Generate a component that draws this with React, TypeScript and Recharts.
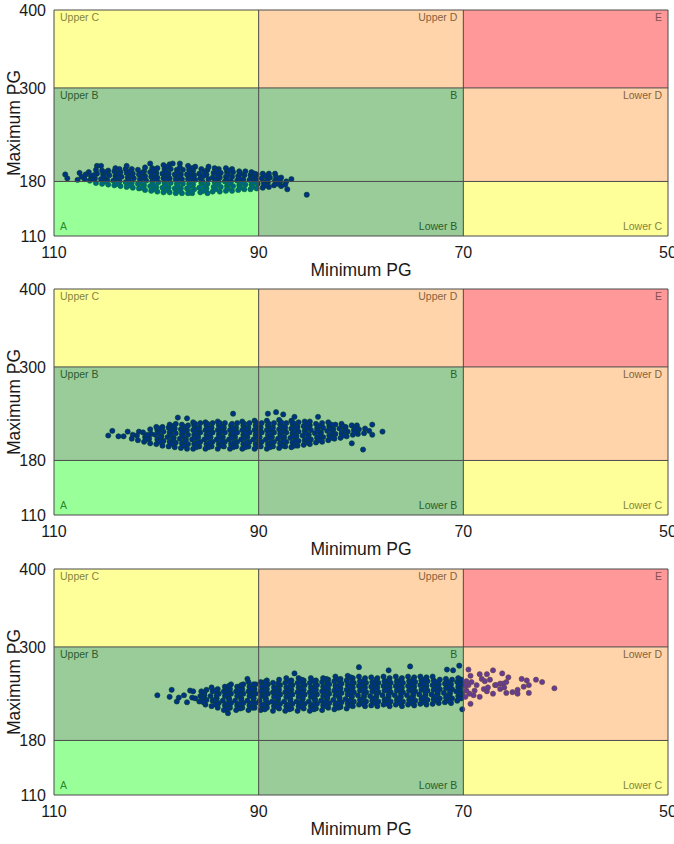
import { ScatterChart, Scatter, XAxis, YAxis, ReferenceArea, ReferenceLine } from "recharts";

const minTicks = [110, 90, 70, 50];
const maxTicks = [110, 180, 300, 400];

// [min PG, max PG]
const topPoints = [
  [108.9,189],[108.7,184],[107.7,182],[107.5,191],[107.3,186],[107,183],[106.9,189],
  [106.5,181],[106.4,187],[106.6,192],[105.9,178],[106,184],[105.8,190],[105.8,200],[105.9,195],
  [105.3,177],[105.4,183],[105.2,189],[105.3,194],[105.4,200],[104.7,176],[104.8,182],[104.6,188],[104.7,194],
  [104.1,175],[104.2,181],[104,187],[104.1,193],[104,197],[103.5,174],[103.6,180],[103.4,186],[103.5,192],[103.6,196],
  [102.9,173],[103,179],[102.8,185],[102.9,191],[103,196],[102.9,200],[102.3,172],[102.4,178],[102.2,184],[102.3,190],[102.4,196],
  [101.7,171],[101.8,177],[101.6,183],[101.7,189],[101.8,195],[101.1,169],[101.2,175],[101,181],[101.1,187],[101.2,193],[101.1,198],
  [100.5,168],[100.6,174],[100.4,180],[100.5,186],[100.6,192],[100.4,197],[100.6,203],[99.9,167],[100,173],[99.8,179],[99.9,185],[100,191],[99.9,197],
  [99.3,166],[99.4,172],[99.2,178],[99.3,184],[99.4,190],[99.2,196],[99.3,201],[98.7,166],[98.8,172],[98.6,178],[98.7,184],[98.8,190],[98.6,196],[98.7,202],
  [98.1,165],[98.2,171],[98,177],[98.1,183],[98.2,189],[98,195],[98.4,203],[97.5,165],[97.6,171],[97.4,177],[97.5,183],[97.6,189],[97.4,195],[97.7,203],
  [96.9,165],[97,171],[96.8,177],[96.9,183],[97,189],[96.8,195],[96.9,200],[96.5,165],[96.3,170],[96.4,176],[96.2,182],[96.3,188],[96.4,194],[96.2,199],
  [95.7,166],[95.8,172],[95.6,178],[95.7,184],[95.8,190],[95.6,196],[95,165],[95.1,171],[95,177],[94.9,183],[95.1,189],[95,195],[94.9,199],
  [94.5,167],[94.4,173],[94.3,179],[94.5,185],[94.4,191],[94.3,197],[93.8,167],[93.7,173],[93.9,179],[93.8,185],[93.7,191],[93.9,196],
  [93.2,168],[93.1,174],[93.3,180],[93.2,186],[93.1,192],[93.2,197],[92.6,168],[92.5,174],[92.7,180],[92.6,186],[92.5,192],[92.6,196],
  [92,169],[91.9,175],[92.1,181],[92,187],[91.9,193],[91.4,170],[91.3,176],[91.5,182],[91.4,188],[91.3,193],[90.8,170],[90.7,176],[90.9,182],[90.8,188],[90.7,192],
  [90.2,171],[90.1,177],[90.3,183],[90.2,189],[89.6,172],[89.5,178],[89.7,184],[89.6,190],[89,173],[89.1,179],[88.9,185],[89,190],
  [88.4,190],[88.5,175],[88.4,181],[88.3,186],[87.8,174],[87.9,180],[87.8,185],[87.3,180],[87.2,170],[87.4,176],[86.8,183],[85.3,163],
];
const topFill = [
  [106.2,183],[106.1,188],[105,180],[105.1,186],[104.9,192],[103.8,177],[103.9,184],[103.7,190],[102.6,175],[102.7,181],[102.5,187],[102.6,193],
  [101.4,172],[101.5,179],[101.3,185],[101.4,191],[100.2,170],[100.3,176],[100.1,183],[100.2,189],[100.3,195],[99,169],[99.1,175],[98.9,181],[99,187],[99.1,193],[98.9,199],
  [97.8,168],[97.9,174],[97.7,180],[97.8,186],[97.9,192],[97.7,198],[96.6,167],[96.7,174],[96.5,180],[96.6,185],[96.7,191],[96.5,197],
  [95.4,168],[95.3,174],[95.5,180],[95.4,187],[95.3,193],[94.2,170],[94.1,176],[94.2,182],[94,188],[94.1,194],[93,171],[92.9,177],[93.1,183],[93,189],[92.9,194],
  [91.8,172],[91.7,178],[91.9,184],[91.8,190],[90.6,173],[90.5,179],[90.6,185],[90.4,190],[89.3,175],[89.2,181],[89.3,187],[88.1,177],[88,183],
];

const middlePoints = [
  [104.7,212],[104.3,218],[103.7,211],[103.2,211],[102.8,217],[102.4,208],[102.3,213],[101.8,206],[101.9,212],[101.7,217],
  [101.2,204],[101.1,210],[101.3,216],[100.6,202],[100.7,208],[100.5,214],[100.6,220],[100,201],[99.9,207],[100.1,213],[99.9,219],[100,223],
  [99.4,199],[99.3,205],[99.5,211],[99.3,217],[99.4,223],[98.8,198],[98.7,204],[98.9,210],[98.7,216],[98.8,222],[98.7,226],
  [98.2,197],[98.1,203],[98.3,209],[98.1,215],[98.2,221],[98.1,227],[97.9,235],[97.6,196],[97.5,202],[97.7,208],[97.5,214],[97.6,220],[97.5,226],
  [97,195],[96.9,201],[97.1,207],[96.9,213],[97,219],[96.9,225],[97,234],[96.4,195],[96.3,201],[96.5,207],[96.3,213],[96.4,219],[96.3,225],[96.4,229],
  [95.8,198],[95.7,204],[95.9,210],[95.7,216],[95.8,222],[95.7,228],[95.2,195],[95.1,201],[95.3,207],[95.1,213],[95.2,219],[95.1,225],[95.2,229],
  [94.6,198],[94.5,204],[94.7,210],[94.5,216],[94.6,222],[94.5,228],[94,195],[93.9,201],[94.1,207],[93.9,213],[94,219],[93.9,225],[94,230],
  [93.4,198],[93.3,204],[93.5,210],[93.3,216],[93.4,222],[93.3,228],[92.8,195],[92.7,201],[92.9,207],[92.7,213],[92.8,219],[92.7,225],[92.5,240],
  [92.2,198],[92.1,204],[92.3,210],[92.1,216],[92.2,222],[92.1,228],[91.6,195],[91.5,201],[91.7,207],[91.5,213],[91.6,219],[91.5,225],[91.6,230],
  [91,198],[90.9,204],[91.1,210],[90.9,216],[91,222],[90.9,228],[90.4,195],[90.3,201],[90.5,207],[90.3,213],[90.4,219],[90.3,225],[90.4,231],
  [89.8,198],[89.7,204],[89.9,210],[89.7,216],[89.8,222],[89.7,228],[89.1,240],[89.2,195],[89.1,201],[89.3,207],[89.1,213],[89.2,219],[89.1,225],[89.2,231],
  [88.6,198],[88.5,204],[88.7,210],[88.5,216],[88.6,222],[88.5,228],[88.3,242],[88,196],[87.9,202],[88.1,208],[87.9,214],[88,220],[87.9,226],[88,232],
  [87.6,239],[87.4,198],[87.3,204],[87.5,210],[87.3,216],[87.4,222],[87.3,228],[86.8,197],[86.7,203],[86.9,209],[86.7,215],[86.8,221],[86.7,227],[86.8,231],[86.5,236],
  [86.2,199],[86.1,205],[86.3,211],[86.1,217],[86.2,223],[86.1,229],[85.6,200],[85.5,206],[85.7,212],[85.5,218],[85.6,224],[85.5,230],
  [85,201],[84.9,207],[85.1,213],[84.9,219],[85,225],[85,230],[84.4,203],[84.3,209],[84.5,215],[84.3,221],[84.4,227],[84.2,236],
  [83.8,204],[83.7,210],[83.9,216],[83.7,222],[83.8,228],[83.2,206],[83.1,212],[83.3,218],[83.1,224],[83.2,229],[82.6,208],[82.5,214],[82.7,220],[82.5,226],
  [82,209],[81.9,215],[82.1,221],[81.9,227],[81.4,211],[81.3,217],[81.5,223],[80.9,202],[80.8,213],[80.7,219],[80.9,225],[80.3,214],[80.2,220],[80.4,225],
  [79.8,194],[79.7,215],[79.6,221],[79.2,218],[78.9,213],[78.9,226],[77.9,217],
];
const middleFill = [
  [101,207],[100.9,213],[99.7,204],[99.6,210],[99.8,216],[99.7,221],[98.5,201],[98.4,207],[98.6,213],[98.5,219],[98.4,224],[97.3,199],[97.2,205],[97.4,211],[97.3,217],[97.2,223],
  [96.1,197],[96,203],[96.2,209],[96.1,215],[96,221],[96.2,227],[94.9,197],[94.8,203],[95,209],[94.9,215],[94.8,221],[95,227],[93.7,199],[93.6,205],[93.8,211],[93.7,217],[93.6,223],[93.8,228],
  [92.5,197],[92.4,203],[92.6,209],[92.5,215],[92.4,221],[92.6,227],[91.3,197],[91.2,203],[91.4,209],[91.3,215],[91.2,221],[91.4,227],[90.1,198],[90,204],[90.2,210],[90.1,216],[90,222],[90.2,228],
  [88.9,197],[88.8,203],[89,209],[88.9,215],[88.8,221],[89,227],[87.7,199],[87.6,205],[87.8,211],[87.7,217],[87.6,223],[87.8,229],[86.5,199],[86.4,205],[86.6,211],[86.5,217],[86.4,223],[86.6,228],
  [85.3,203],[85.2,209],[85.4,215],[85.3,221],[85.2,227],[84.1,206],[84,212],[84.2,218],[84.1,224],[82.9,209],[82.8,215],[83,221],[82.9,226],[81.7,212],[81.6,218],[81.8,224],[80.5,216],[80.6,222],
];

const bottomPoints = [
  [99.9,238],[98.7,236],[98.5,245],[98,230],[97.8,235],[97.3,238],[97,229],[96.7,244],[96.5,235],[96.4,243],[96.2,234],
  [95.8,230],[95.7,237],[95.6,243],[95.2,226],[95.1,232],[95.3,238],[95.1,245],[94.6,224],[94.5,231],[94.7,237],[94.5,243],[94.6,248],
  [94,222],[93.9,228],[94.1,234],[93.9,240],[94,246],[93.4,219],[93.3,225],[93.5,231],[93.3,237],[93.4,243],[93.3,249],[93,215],
  [92.8,222],[92.7,228],[92.9,234],[92.7,240],[92.8,246],[92.7,252],[92.2,219],[92.1,225],[92.3,231],[92.1,237],[92.2,243],[92.1,249],
  [91.6,222],[91.5,228],[91.7,234],[91.5,240],[91.6,246],[91.5,252],[91.1,259],[91,219],[90.9,225],[91.1,231],[90.9,237],[91,243],[90.9,249],[91,255],
  [90.4,222],[90.3,228],[90.5,234],[90.3,240],[90.4,246],[90.3,252],[89.8,219],[89.7,225],[89.9,231],[89.7,237],[89.8,243],[89.7,249],[89.8,255],
  [89.2,222],[89.1,228],[89.3,234],[89.1,240],[89.2,246],[89.1,252],[89.2,257],[88.6,218],[88.5,224],[88.7,230],[88.5,236],[88.6,242],[88.5,248],[88.6,254],
  [88,221],[87.9,227],[88.1,233],[87.9,239],[88,245],[87.9,251],[88,258],[87.4,218],[87.3,224],[87.5,230],[87.3,236],[87.4,242],[87.3,248],[87.4,254],[87.3,260],
  [86.8,221],[86.7,227],[86.9,233],[86.7,239],[86.8,245],[86.7,251],[86.8,257],[86.5,266],[86.2,218],[86.1,224],[86.3,230],[86.1,236],[86.2,242],[86.1,248],[86.2,254],[86.1,260],
  [85.6,221],[85.5,227],[85.7,233],[85.5,239],[85.6,245],[85.5,251],[85.6,257],[85,218],[84.9,224],[85.1,230],[84.9,236],[85,242],[84.9,248],[85,254],[84.9,260],
  [84.4,221],[84.3,227],[84.5,233],[84.3,239],[84.4,245],[84.3,251],[84.4,257],[83.8,219],[83.7,225],[83.9,231],[83.7,237],[83.8,243],[83.7,249],[83.8,255],[83.7,260],
  [83.2,222],[83.1,228],[83.3,234],[83.1,240],[83.2,246],[83.1,252],[83.2,258],[82.6,220],[82.5,226],[82.7,232],[82.5,238],[82.6,244],[82.5,250],[82.6,256],[82.5,262],
  [82,223],[81.9,229],[82.1,235],[81.9,241],[82,247],[81.9,253],[82,259],[81.4,221],[81.3,227],[81.5,233],[81.3,239],[81.4,245],[81.3,251],[81.4,257],[81.3,263],
  [80.8,224],[80.7,230],[80.9,236],[80.7,242],[80.8,248],[80.7,254],[80.8,260],[80.2,274],[80.2,226],[80.1,232],[80.3,238],[80.1,244],[80.2,250],[80.1,256],[80.2,262],
  [79.6,224],[79.5,230],[79.7,236],[79.5,242],[79.6,248],[79.5,254],[79.6,260],[79,225],[78.9,231],[79.1,237],[78.9,243],[79,249],[78.9,255],[79,261],
  [78.4,224],[78.3,230],[78.5,236],[78.3,242],[78.4,248],[78.3,254],[78.4,260],[77.8,226],[77.7,232],[77.9,238],[77.7,244],[77.8,250],[77.7,256],[77.8,262],[77.3,270],
  [77.2,224],[77.1,230],[77.3,236],[77.1,242],[77.2,248],[77.1,254],[77.2,260],[76.6,226],[76.5,232],[76.7,238],[76.5,244],[76.6,250],[76.5,256],[76.6,262],
  [76,224],[75.9,230],[76.1,236],[75.9,242],[76,248],[75.9,254],[76,260],[75.4,226],[75.3,232],[75.5,238],[75.3,244],[75.4,250],[75.3,256],[75.4,262],[75.2,275],
  [74.8,225],[74.7,231],[74.9,237],[74.7,243],[74.8,249],[74.7,255],[74.8,261],[74.2,227],[74.1,233],[74.3,239],[74.1,245],[74.2,251],[74.1,257],[74.2,262],
  [73.6,226],[73.5,232],[73.7,238],[73.5,244],[73.6,250],[73.5,256],[73.6,261],[73,227],[72.9,233],[73.1,239],[72.9,245],[73,251],[72.9,257],[73,262],
  [72.4,228],[72.3,234],[72.5,240],[72.3,246],[72.4,252],[72.3,258],[71.8,229],[71.7,235],[71.9,241],[71.7,247],[71.8,253],[71.7,259],[71.6,271],
  [71.2,228],[71.1,234],[71.3,240],[71.1,246],[71.2,252],[71.1,258],[71,270],[70.6,231],[70.5,237],[70.7,243],[70.5,249],[70.6,255],[70.5,260],[70.4,276],
  [70.1,220],[70.2,234],[70.1,240],[70.3,246],[70.1,252],[70.2,258],
  [69.7,244],[69.8,236],[69.8,250],[69.7,256],[69.5,251],[69.5,271],[69.3,263],[69.3,227],[69.4,240],[69.2,255],[69,238],[68.9,244],[68.7,251],[68.4,236],[68.4,265],
  [68.2,259],[68,246],[67.9,256],[67.7,243],[67.7,265],[67.6,248],[67.4,258],[67.1,240],[67.1,270],[66.9,251],[66.8,251],[66.4,253],[66.4,246],[66.2,266],
  [66.1,253],[66,248],[65.8,255],[65.8,241],[65.6,261],[65.2,242],[64.7,245],[64.7,240],[64.3,259],[64.1,249],[63.8,257],[63.6,251],[63.6,241],[62.9,258],[62.3,255],[61.1,247],
];
const bottomFill = [
  [95.4,229],[95.5,235],[95.3,241],[94.2,226],[94.3,232],[94.1,238],[94.2,244],[93,221],[93.1,227],[92.9,233],[93,239],[93.1,245],[92.9,250],
  [91.8,221],[91.9,227],[91.7,233],[91.8,239],[91.9,245],[91.7,251],[90.6,222],[90.7,228],[90.5,234],[90.6,240],[90.7,246],[90.5,252],
  [89.4,220],[89.5,226],[89.3,232],[89.4,238],[89.5,244],[89.3,250],[89.4,255],[88.2,223],[88.3,229],[88.1,235],[88.2,241],[88.3,247],[88.1,253],
  [87,220],[87.1,226],[86.9,232],[87,238],[87.1,244],[86.9,250],[87,256],[85.8,223],[85.9,229],[85.7,235],[85.8,241],[85.9,247],[85.7,253],[85.8,258],
  [84.6,220],[84.7,226],[84.5,232],[84.6,238],[84.7,244],[84.5,250],[84.6,256],[83.4,224],[83.5,230],[83.3,236],[83.4,242],[83.5,248],[83.3,254],[83.4,259],
  [82.2,222],[82.3,228],[82.1,234],[82.2,240],[82.3,246],[82.1,252],[82.2,258],[81,225],[81.1,231],[80.9,237],[81,243],[81.1,249],[80.9,255],[81,261],
  [79.8,227],[79.9,233],[79.7,239],[79.8,245],[79.9,251],[79.7,257],[78.6,228],[78.7,234],[78.5,240],[78.6,246],[78.7,252],[78.5,258],
  [77.4,227],[77.5,233],[77.3,239],[77.4,245],[77.5,251],[77.3,257],[76.2,228],[76.3,234],[76.1,240],[76.2,246],[76.3,252],[76.1,258],
  [75,228],[75.1,234],[74.9,240],[75,246],[75.1,252],[74.9,258],[73.8,229],[73.9,235],[73.7,241],[73.8,247],[73.9,253],[73.7,259],
  [72.6,231],[72.7,237],[72.5,243],[72.6,249],[72.7,255],[71.4,231],[71.5,237],[71.3,243],[71.4,249],[71.5,255],[70.4,234],[70.3,240],[70.4,252],
];

// [min from, min to, max from, max to]
const zoneA = [110, 90, 110, 180];
const zonesB = [[110, 90, 180, 300], [90, 70, 110, 300]];
const zonesC = [[110, 90, 300, 400], [70, 50, 110, 180]];
const zonesD = [[90, 70, 300, 400], [70, 50, 180, 300]];
const zoneE = [70, 50, 300, 400];

const toRows = (pts: number[][]) => pts.map(([x, y]) => ({ x, y }));
const tickStyle = { fontSize: 16, fill: "#1a1a1a" };

function Dot(props: any) {
  return <circle cx={props.cx} cy={props.cy} r={2.6} fill="#0000e0" stroke="#001a40" strokeWidth={0.6} />;
}

function zoneArea(z: number[], fill: string, key: string) {
  return (
    <ReferenceArea
      key={key}
      x1={z[0]}
      x2={z[1]}
      y1={z[2]}
      y2={z[3]}
      fill={fill}
      fillOpacity={0.4}
      stroke="none"
      zIndex={500}
    />
  );
}

function zoneLabel(z: number[], text: string, position: string, fill: string) {
  const onTop = position.includes("Top");
  return (
    <ReferenceArea
      key={text}
      x1={z[0]}
      x2={z[1]}
      y1={z[2]}
      y2={z[3]}
      fill="none"
      stroke="none"
      zIndex={510}
      label={{ value: text, position, fontSize: 10.5, fill, offset: 6, dy: onTop ? -2 : 0 }}
    />
  );
}

function GridPanel({ points, top = 10 }: { points: number[][]; top?: number }) {
  return (
    <ScatterChart width={674} height={269 + top} margin={{ top, right: 6, left: 0, bottom: 0 }}>
      <XAxis
        type="number"
        dataKey="x"
        domain={[50, 110]}
        reversed
        ticks={minTicks}
        interval={0}
        tick={tickStyle}
        tickLine={false}
        axisLine={false}
        height={43}
        tickMargin={5}
        label={{ value: "Minimum PG", position: "insideBottom", offset: 3, fontSize: 17.5, fill: "#1a1a1a" }}
      />
      <YAxis
        type="number"
        dataKey="y"
        domain={[110, 400]}
        ticks={maxTicks}
        interval={0}
        tick={tickStyle}
        tickLine={false}
        axisLine={false}
        width={54}
        tickMargin={2}
        label={{ value: "Maximum PG", angle: -90, position: "insideLeft", offset: 14, fontSize: 17.5, fill: "#1a1a1a", style: { textAnchor: "middle" } }}
      />
      <Scatter data={toRows(points)} shape={Dot} zIndex={10} isAnimationActive={false} />
      {zoneArea(zoneA, "#00ff00", "a")}
      {zonesB.map((z, i) => zoneArea(z, "#008000", "b" + i))}
      {zonesC.map((z, i) => zoneArea(z, "#ffff00", "c" + i))}
      {zonesD.map((z, i) => zoneArea(z, "#ff942a", "d" + i))}
      {zoneArea(zoneE, "#ff0000", "e")}
      {minTicks.map((v) => (
        <ReferenceLine key={"x" + v} x={v} stroke="#4a4a4a" zIndex={520} />
      ))}
      {maxTicks.map((v) => (
        <ReferenceLine key={"y" + v} y={v} stroke="#4a4a4a" zIndex={520} />
      ))}
      {zoneLabel(zonesC[0], "Upper C", "insideTopLeft", "#85853d")}
      {zoneLabel(zonesB[0], "Upper B", "insideTopLeft", "#2c5c2c")}
      {zoneLabel(zoneA, "A", "insideBottomLeft", "#2a8a2a")}
      {zoneLabel(zonesD[0], "Upper D", "insideTopRight", "#85633f")}
      {zoneLabel(zonesB[1], "B", "insideTopRight", "#2c5c2c")}
      {zoneLabel(zonesB[1], "Lower B", "insideBottomRight", "#2c5c2c")}
      {zoneLabel(zoneE, "E", "insideTopRight", "#855050")}
      {zoneLabel(zonesD[1], "Lower D", "insideTopRight", "#85633f")}
      {zoneLabel(zonesC[1], "Lower C", "insideBottomRight", "#85853d")}
    </ScatterChart>
  );
}

export default function App() {
  return (
    <div style={{ position: "absolute", left: 0, top: 0, width: 674, fontFamily: "'Liberation Sans', Arial, sans-serif", background: "#fff" }}>
      <GridPanel points={[...topPoints, ...topFill]} />
      <GridPanel points={[...middlePoints, ...middleFill]} />
      <GridPanel points={[...bottomPoints, ...bottomFill]} top={11} />
    </div>
  );
}
